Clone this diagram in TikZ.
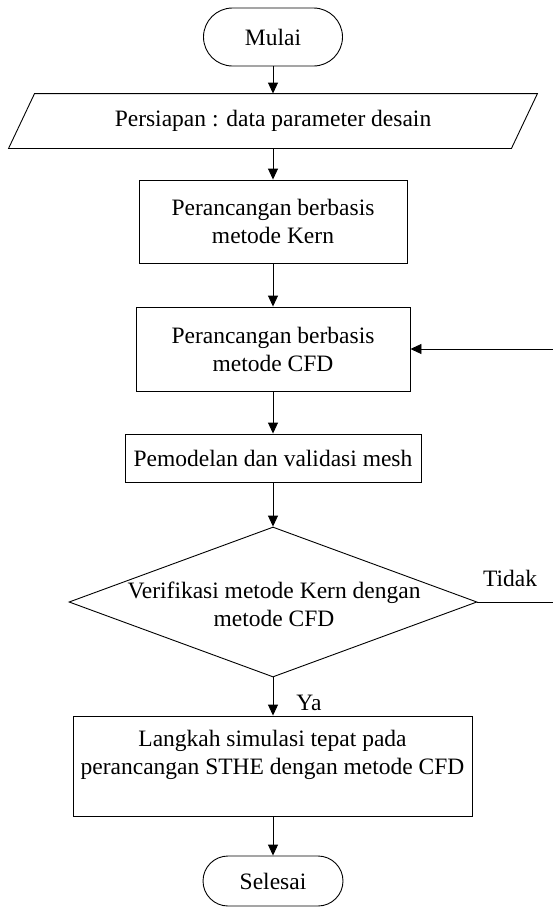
\documentclass[tikz,border=0pt]{standalone}
\usepackage{fontspec}
\setmainfont{Liberation Serif}
\usetikzlibrary{shapes.geometric, arrows.meta}
\begin{document}
\begin{tikzpicture}[x=1pt,y=-1pt,
  font=\fontsize{23.5}{28}\selectfont,
  line width=0.9pt,
  arr/.style={-{Triangle[length=11pt,width=10pt]}},
  box/.style={draw, rectangle, inner sep=0pt, align=center},
  term/.style={draw, rectangle, inner sep=0pt},
  lbl/.style={inner sep=0pt, align=center}]
\useasboundingbox (0,0) rectangle (553,908);

\node[term, rounded corners=29pt, minimum width=139pt, minimum height=58pt] (mulai) at (273,37) {Mulai};

\node[lbl, minimum width=502pt, minimum height=54pt] (par) at (273,121) {Persiapan : data parameter desain};
\draw ([xshift=13pt]par.north west) -- ([xshift=13pt]par.north east) -- ([xshift=-13pt]par.south east) -- ([xshift=-13pt]par.south west) -- cycle;

\node[box, minimum width=268pt, minimum height=83pt] (kern) at (273,221.5) {Perancangan berbasis\\metode Kern};
\node[box, minimum width=274pt, minimum height=84pt] (cfd) at (273,349) {Perancangan berbasis\\metode CFD};
\node[box, minimum width=296pt, minimum height=48pt] (pem) at (273,458) {Pemodelan dan validasi mesh};

\node[draw, diamond, inner sep=0pt, minimum width=408pt, minimum height=150pt] (dec) at (273,602) {};
\node[lbl] (dectext) at (274,604) {Verifikasi metode Kern dengan\\metode CFD};

\node[box, minimum width=399pt, minimum height=100pt] (lang) at (272.5,766) {};
\node[lbl] (langtext) at (272.5,755) {Langkah simulasi tepat pada\\perancangan STHE dengan metode CFD};

\node[term, rounded corners=25pt, minimum width=140pt, minimum height=50pt] (sel) at (273,881) {Selesai};

\node[lbl] (ya) at (309,703) {Ya};
\node[lbl] (tidak) at (510,578) {Tidak};

\coordinate (tidakend) at (553,602);
\coordinate (cfdin) at (553,349);

\draw[arr] (mulai.south) -- (par.north);
\draw[arr] (par.south) -- (kern.north);
\draw[arr] (kern.south) -- (cfd.north);
\draw[arr] (cfd.south) -- (pem.north);
\draw[arr] (pem.south) -- (dec.north);
\draw[arr] (dec.south) -- (lang.north -| dec.south);
\draw[arr] (lang.south -| sel.north) -- (sel.north);
\draw (dec.east) -- (tidakend);
\draw[arr] (cfdin) -- (cfd.east);
\end{tikzpicture}
\end{document}
